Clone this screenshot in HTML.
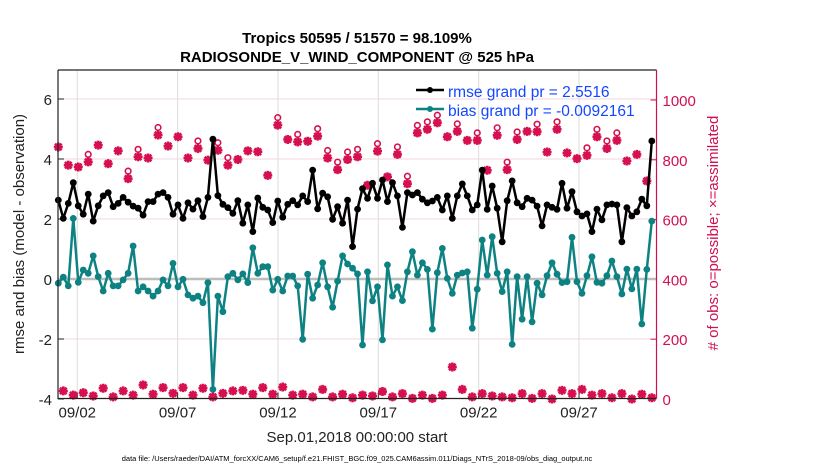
<!DOCTYPE html>
<html><head><meta charset="utf-8"><style>
body{margin:0;background:#fff;}
svg{display:block;font-family:"Liberation Sans",Arial,sans-serif;}
</style></head><body>
<svg id="chart" width="830" height="470" viewBox="0 0 830 470">
<text x="357" y="43" text-anchor="middle" font-size="15" font-weight="bold" fill="#000">Tropics 50595 / 51570 = 98.109%</text>
<text x="357" y="62" text-anchor="middle" font-size="15" font-weight="bold" fill="#000">RADIOSONDE_V_WIND_COMPONENT @ 525 hPa</text>
<text transform="translate(24,234) rotate(-90)" text-anchor="middle" font-size="15" fill="#222">rmse and bias (model - observation)</text>
<text transform="translate(718,233) rotate(-90)" text-anchor="middle" font-size="15" fill="#d1104e"># of obs: o=possible; ×=assimilated</text>
<text x="357" y="442" text-anchor="middle" font-size="15" fill="#222">Sep.01,2018 00:00:00 start</text>
<text x="357" y="461" text-anchor="middle" font-size="7.5" fill="#000">data file: /Users/raeder/DAI/ATM_forcXX/CAM6_setup/f.e21.FHIST_BGC.f09_025.CAM6assim.011/Diags_NTrS_2018-09/obs_diag_output.nc</text>
<g id="plot"></g>
</svg>
<script>
const rmse = [2.63,2.02,2.52,3.21,2.44,2.16,2.83,1.93,2.44,2.77,2.88,2.41,2.52,2.72,2.56,2.43,2.36,2.13,2.58,2.58,2.83,2.88,2.72,2.16,2.47,2.02,2.54,2.33,2.61,2.08,2.72,4.66,2.78,2.49,2.38,2.19,2.61,1.86,2.47,1.58,
2.70,2.39,2.30,1.88,2.60,2.06,2.49,2.61,2.47,2.77,2.58,3.63,2.34,2.86,2.74,1.99,2.41,1.86,2.63,1.08,2.33,3.01,2.69,3.19,2.69,3.30,2.58,3.21,2.77,1.72,2.88,2.80,2.88,2.66,2.54,2.60,2.72,2.30,2.77,2.02,
2.77,3.17,2.77,2.30,2.47,3.63,2.32,3.10,2.36,1.24,2.61,3.27,2.54,2.41,2.69,2.63,2.43,1.77,2.47,2.39,2.32,3.19,2.36,2.91,2.24,2.10,2.17,1.58,2.33,1.97,2.47,2.50,2.47,1.24,2.38,2.10,2.24,2.66,2.44,4.60];
const bias = [-0.14,0.06,-0.23,2.02,-0.11,0.30,0.19,0.77,0.08,-0.40,0.19,-0.23,-0.23,-0.03,0.19,1.10,-0.40,-0.26,-0.40,-0.57,-0.40,-0.03,-0.23,0.52,-0.26,-0.01,-0.53,-0.64,-0.57,-0.79,-0.12,-3.68,-0.57,-1.09,0.08,0.19,-0.03,0.17,-0.12,1.04,
0.19,0.41,0.41,-0.37,-0.01,-0.40,0.10,0.10,-0.23,-2.01,0.16,-0.64,-0.20,0.54,-0.26,-0.94,-0.07,0.77,0.50,0.36,0.17,-2.20,0.24,-0.73,-0.26,-2.03,0.47,-0.57,-0.26,-0.72,0.24,0.91,0.13,0.54,0.32,-1.67,0.21,1.02,0.02,-0.48,
0.13,0.20,0.24,-1.64,-0.34,1.30,0.13,1.41,0.19,-0.42,0.24,-2.18,0.08,-1.34,0.08,-1.43,-0.14,-0.53,0.11,0.54,0.16,-0.12,-0.09,1.39,-0.09,-0.48,0.11,0.74,-0.11,-0.14,0.11,0.60,0.08,-0.50,0.33,-0.33,0.33,-1.50,0.32,1.93];
const assimHigh = [843,782,776,793,849,787,830,737,810,806,883,846,877,806,838,799,832,782,801,830,
827,748,916,868,860,862,879,806,767,801,810,715,829,743,818,720,890,902,924,877,
895,865,865,765,882,767,868,895,894,826,902,823,804,815,877,838,865,796,818,729];
const assimLow = [27,13,21,10,36,7,27,13,47,16,38,19,38,13,36,7,19,27,29,16,
38,16,40,13,16,7,32,7,16,4,13,10,25,7,18,2,13,2,13,107,
32,7,18,10,7,4,18,2,18,0,29,18,32,13,18,4,18,0,16,4];
const possibleExtra = [0,0,0,15,0,0,0,15,15,0,15,0,0,0,15,0,15,15,0,0,
0,0,15,0,15,0,15,15,15,15,15,0,15,0,15,15,15,15,15,0,
15,0,15,0,15,15,15,0,15,0,15,0,0,15,15,15,15,0,0,0];
const yTicksLeft = [-4,-2,0,2,4,6];
const yTicksRight = [0,200,400,600,800,1000];
const xTickDays = [2,7,12,17,22,27];
const xTickLabels = ["09/02","09/07","09/12","09/17","09/22","09/27"];

const L=58,R=656.5,T=70,B=398.5;
const xS = d => 57.2 + (d-1)*20.07;
const yL = v => 279 - v*30;
const yR = c => 399 - c*0.299;
const dayOf = i => 1.055 + i*0.2485;
const NS='http://www.w3.org/2000/svg';
const g=document.getElementById('plot');
function mk(tag,attrs,parent){const e=document.createElementNS(NS,tag);for(const k in attrs)e.setAttribute(k,attrs[k]);(parent||g).appendChild(e);return e;}

xTickDays.forEach((d,k)=>{
  const x=xS(d);
  const gl=mk('line',{x1:x,x2:x,y1:T,y2:B,stroke:'#dcdcdc','stroke-width':1});
  
  
  const tk=mk('line',{x1:x,x2:x,y1:B,y2:B-6,stroke:'#222','stroke-width':1});
  
  
  const tl=mk('text',{x:x,y:B+19,'text-anchor':'middle','font-size':15,fill:'#222'});
  tl.textContent=xTickLabels[k];
  
  
});
yTicksLeft.forEach(v=>{
  const y=yL(v);
  if(v!==0 && v!==-4){const gl=mk('line',{x1:L,x2:R,y1:y,y2:y,stroke:'#f0d6e0','stroke-width':1});
  
  }
  const tk=mk('line',{x1:L,x2:L+6,y1:y,y2:y,stroke:'#222','stroke-width':1});
  
  
  const tl=mk('text',{x:L-6,y:y+6,'text-anchor':'end','font-size':15,fill:'#222'});
  tl.textContent=String(v);
  
  
});
yTicksRight.forEach(c=>{
  const y=yR(c);
  const tk=mk('line',{x1:R,x2:R-6,y1:y,y2:y,stroke:'#d1104e','stroke-width':1});
  
  
  const tl=mk('text',{x:R+6,y:y+6,'text-anchor':'start','font-size':15,fill:'#d1104e'});
  tl.textContent=String(c);
  
  
});
const zl=mk('line',{x1:L,x2:R,y1:yL(0),y2:yL(0),stroke:'#bdbdbd','stroke-width':2.5});



function obsMarker(x,y,name){
  const gg=mk('g',{});
  
  
  mk('path',{d:`M${x-4.5},${y}L${x+4.5},${y}M${x},${y-4.5}L${x},${y+4.5}M${x-3.3},${y-3.3}L${x+3.3},${y+3.3}M${x-3.3},${y+3.3}L${x+3.3},${y-3.3}`,stroke:'#d6104f','stroke-width':2.6},gg);
  mk('circle',{cx:x,cy:y,r:2.6,fill:'#d6104f'},gg);
}
for(let i=0;i<120;i++){
  const k=Math.floor(i/2);
  const c = (i%2===0)?assimHigh[k]:assimLow[k];
  const x=xS(dayOf(i));
  const pe = (i%2===0)?possibleExtra[k]:0;
  if(pe>0){
    const pc=mk('circle',{cx:x,cy:yR(c+pe)-3,r:2.8,fill:'none',stroke:'#d6104f','stroke-width':1.6});
    
    
  }
  obsMarker(x,yR(c),'assimilated-obs-marker');
}
function series(vals,color,name){
  let d='';
  vals.forEach((v,i)=>{d+=(i?'L':'M')+xS(dayOf(i)).toFixed(1)+','+yL(v).toFixed(1);});
  const p=mk('path',{d:d,fill:'none',stroke:color,'stroke-width':2.5,'stroke-linejoin':'round'});
  
  
  vals.forEach((v,i)=>{
    const c=mk('circle',{cx:xS(dayOf(i)),cy:yL(v),r:3.4,fill:color});
    
    
  });
}
series(bias,'#0e8282','bias');
series(rmse,'#000000','rmse');

const ax=mk('path',{d:`M${L},${T}L${R},${T}M${L},${T}L${L},${B}L${R},${B}`,fill:'none',stroke:'#222','stroke-width':1.2});


const rax=mk('line',{x1:R,x2:R,y1:T,y2:B,stroke:'#d1104e','stroke-width':1.2});



const lg=mk('g',{});


[['rmse grand pr = 2.5516','#000',97,'legend-entry-rmse'],['bias grand pr = -0.0092161','#0e8282',116,'legend-entry-bias']].forEach(e=>{
  const eg=mk('g',{},lg);
  
  
  mk('line',{x1:416,x2:444,y1:e[2]-7,y2:e[2]-7,stroke:e[1],'stroke-width':2.5},eg);
  mk('circle',{cx:430,cy:e[2]-7,r:3,fill:e[1]},eg);
  const t=mk('text',{x:448,y:e[2],'font-size':15.5,fill:'#1446ff'},eg);
  t.textContent=e[0];
});
</script>
</body></html>
